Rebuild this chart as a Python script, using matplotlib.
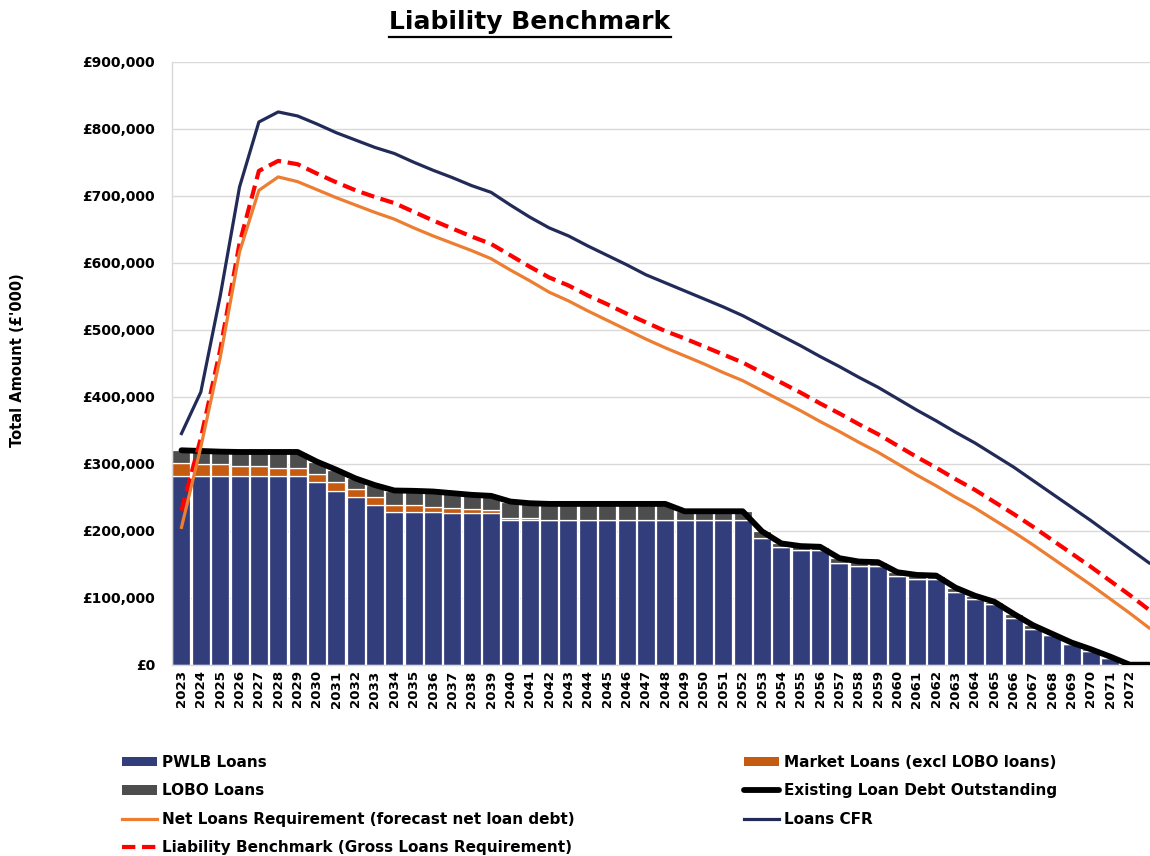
import numpy as np
import matplotlib
matplotlib.use("Agg")
import matplotlib.pyplot as plt
from matplotlib.lines import Line2D
from matplotlib.patches import Patch
from matplotlib.ticker import FuncFormatter, MultipleLocator

plt.rcParams['font.family'] = ['DejaVu Sans']

# ---------------- data (values in £'000) ----------------
years = list(range(2023, 2074))

pwlb = [281, 281, 281, 281, 281, 281, 281,
        272, 259, 250, 238, 228, 228, 228, 226.5, 226.5, 226,
        216, 216, 216, 216, 216, 216, 216, 216, 216, 216, 216, 216, 216,
        189, 175, 171, 171, 152, 147, 147, 132, 128, 128,
        108, 98.5, 90, 70, 54, 44, 31, 21, 9.5, 0, 0]

market = [20, 19, 18, 15, 15, 13, 13, 12, 13, 12, 12, 10, 10, 8, 7, 5.5, 5, 3.5, 3.5,
          0, 0, 0, 0, 0, 0, 0, 0, 0, 0, 0, 0, 0, 0, 0, 0, 0,
          0, 0, 0, 0, 0, 0, 0, 0, 0, 0, 0, 0, 0, 0, 0]

lobo = [19, 19, 19, 21.5, 21.5, 23.5, 23.5, 19, 19, 16, 18, 22, 21.5, 22.5, 22.5, 21.5, 21, 24, 21.5,
        24, 24, 24, 24, 24, 24, 24,
        13, 13, 13, 13,
        10, 6, 6, 5, 7, 7, 6, 6, 6, 5,
        7, 4.5, 4, 6, 5, 2, 2, 2, 2.5, 0, 0]

net_req = [205, 325, 458, 616, 708, 728, 721, 709, 697, 686, 675, 665, 652, 640, 629, 618, 606, 589, 573, 556,
           543, 528, 514, 500, 486, 473, 461, 449, 436, 424,
           409, 394, 379, 363, 348, 332, 317, 300, 283, 267,
           250, 234, 216, 198, 179, 159, 139, 119, 98, 77, 55]

loans_cfr = [345, 407, 550, 713, 810, 825, 819, 807, 794, 783, 772, 763, 750, 738, 727, 715, 705, 686, 668, 652,
             640, 625, 611, 597, 582, 570, 558, 546, 534, 521,
             506, 491, 476, 460, 445, 429, 414, 397, 380, 364,
             347, 331, 313, 295, 275, 255, 235, 215, 194, 173, 152]

liability_bm = [230, 338, 470, 629, 737, 752, 747, 733, 720, 708, 698, 689, 676, 663, 651, 639, 628, 611, 594, 578,
                566, 551, 538, 524, 511, 498, 487, 475, 463, 451,
                436, 421, 406, 390, 375, 359, 344, 327, 310, 294,
                277, 261, 243, 225, 206, 186, 166, 146, 125, 104, 82]

# ---------------- styling ----------------
C_PWLB = '#323E7C'
C_MKT = '#C55A11'
C_LOBO = '#4D4D4D'
C_NET = '#ED7D31'
C_CFR = '#222B58'
C_LB = '#FF0000'
C_GRID = '#D9D9D9'

W, H = 1150, 856
fig = plt.figure(figsize=(W / 100, H / 100), dpi=100)
left_px, right_px, top_px, bot_px = 171.8, 1158.7, 61.7, 664.7
ax = fig.add_axes([left_px / W, 1 - bot_px / H, (right_px - left_px) / W, (bot_px - top_px) / H])

x = np.arange(len(years))
pw = np.array(pwlb) * 1000
mk = np.array(market) * 1000
lo = np.array(lobo) * 1000
total = pw + mk + lo

bw = 0.93
ax.bar(x, pw, width=bw, color=C_PWLB, edgecolor='white', linewidth=0.9, zorder=2)
ax.bar(x, mk, bottom=pw, width=bw, color=C_MKT, edgecolor='white', linewidth=0.9, zorder=2)
ax.bar(x, lo, bottom=pw + mk, width=bw, color=C_LOBO, edgecolor='white', linewidth=0.9, zorder=2)

ax.plot(x, total, color='black', lw=4.2, zorder=3, solid_joinstyle='round', solid_capstyle='round')
ax.plot(x, np.array(loans_cfr) * 1000, color=C_CFR, lw=2.3, zorder=4, solid_joinstyle='round')
ax.plot(x, np.array(liability_bm) * 1000, color=C_LB, lw=3.0, ls=(0, (3.2, 1.6)), zorder=5)
ax.plot(x, np.array(net_req) * 1000, color=C_NET, lw=2.3, zorder=6, solid_joinstyle='round')

ax.set_xlim(-0.5, len(years) - 0.5)
ax.set_ylim(0, 900000)
ax.yaxis.set_major_locator(MultipleLocator(100000))
ax.yaxis.set_major_formatter(FuncFormatter(lambda v, p: '£{:,.0f}'.format(v)))
ax.yaxis.grid(True, color=C_GRID, lw=1.0)
ax.set_axisbelow(True)

ax.set_xticks(x[:-1])
ax.set_xticklabels([str(y) for y in years[:-1]], rotation=90, fontsize=9.6, fontweight='bold')
ax.tick_params(axis='x', length=0, pad=4)
ax.tick_params(axis='y', length=0, pad=12, labelsize=10)
for t in ax.get_yticklabels():
    t.set_fontweight('bold')

for s in ['top', 'right']:
    ax.spines[s].set_visible(False)
for s in ['left', 'bottom']:
    ax.spines[s].set_color(C_GRID)
    ax.spines[s].set_linewidth(1.0)

fig.text(18 / W, 1 - 360 / H, "Total Amount (£'000)", rotation=90, ha='center', va='center',
         fontsize=10.5, fontweight='bold')

# title with underline
title = fig.text(530 / W, 1 - 22 / H, 'Liability Benchmark', ha='center', va='center',
                 fontsize=18, fontweight='bold')

# legends
lp = dict(weight='bold', size=11)
h_left = [Patch(facecolor=C_PWLB), Patch(facecolor=C_LOBO),
          Line2D([], [], color=C_NET, lw=2.3),
          Line2D([], [], color=C_LB, lw=3.0, ls=(0, (3.2, 1.6)))]
l_left = ['PWLB Loans', 'LOBO Loans', 'Net Loans Requirement (forecast net loan debt)',
          'Liability Benchmark (Gross Loans Requirement)']
h_right = [Patch(facecolor=C_MKT), Line2D([], [], color='black', lw=4.2, solid_capstyle='round'),
           Line2D([], [], color=C_CFR, lw=2.3)]
l_right = ['Market Loans (excl LOBO loans)', 'Existing Loan Debt Outstanding', 'Loans CFR']

common = dict(loc='upper left', frameon=False, borderaxespad=0, borderpad=0, handlelength=2.3,
              handletextpad=0.3, labelspacing=0.88, handleheight=0.55, prop=lp)
fig.legend(h_left, l_left, bbox_to_anchor=(122 / W, 1 - 755 / H), **common)
fig.legend(h_right, l_right, bbox_to_anchor=(744 / W, 1 - 755 / H), **common)

fig.canvas.draw()
bb = title.get_window_extent(renderer=fig.canvas.get_renderer())
uy = (H - 37) / H
fig.add_artist(Line2D([bb.x0 / W, bb.x1 / W], [uy, uy], color='black', lw=1.6, transform=fig.transFigure))

fig.savefig('out.png', dpi=100)
